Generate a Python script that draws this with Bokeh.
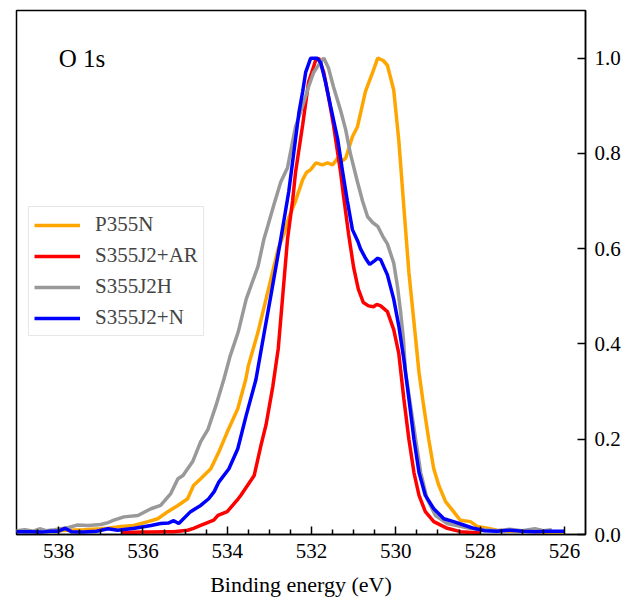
from bokeh.plotting import figure
from bokeh.models import Range1d, FixedTicker, PrintfTickFormatter, Label
from bokeh.embed import file_html
from bokeh.resources import INLINE

# O 1s XPS spectra, normalised intensity vs binding energy (eV)
p355n_e = [539.0, 538.6, 538.2, 537.8, 537.4, 537.0, 536.83, 536.52, 536.22, 535.88,
           535.65, 535.41, 535.17, 534.94, 534.8, 534.63, 534.39, 534.2, 534.0, 533.75,
           533.56, 533.5, 533.27, 533.08, 532.79, 532.66, 532.54, 532.38, 532.21, 532.12,
           532.02, 531.9, 531.74, 531.62, 531.5, 531.38, 531.26, 531.19, 531.03, 530.91,
           530.72, 530.55, 530.43, 530.3, 530.2, 530.05, 529.93, 529.81, 529.69, 529.57,
           529.45, 529.34, 529.22, 529.1, 528.98, 528.82, 528.63, 528.47, 528.23, 528.07,
           527.83, 527.6, 527.3, 527.0, 526.7, 526.4, 526.0]
p355n_i = [0.008, 0.006, 0.007, 0.009, 0.010, 0.012, 0.013, 0.017, 0.019, 0.027,
           0.033, 0.048, 0.061, 0.075, 0.103, 0.117, 0.138, 0.173, 0.215, 0.264,
           0.326, 0.354, 0.425, 0.494, 0.600, 0.630, 0.665, 0.700, 0.745, 0.760,
           0.766, 0.780, 0.776, 0.780, 0.776, 0.790, 0.785, 0.790, 0.835, 0.856,
           0.930, 0.970, 1.000, 0.995, 0.985, 0.933, 0.828, 0.688, 0.550, 0.446,
           0.340, 0.270, 0.200, 0.138, 0.103, 0.069, 0.048, 0.030, 0.027, 0.017,
           0.013, 0.009, 0.007, 0.008, 0.006, 0.005, 0.005]

s355j2ar_e = [536.5, 536.0, 535.8, 535.5, 535.27, 534.94, 534.8, 534.63, 534.32, 534.22,
              534.0, 533.74, 533.68, 533.36, 533.2, 533.08, 532.92, 532.79, 532.69, 532.57,
              532.45, 532.38, 532.21, 532.07, 531.9, 531.83, 531.71, 531.6, 531.48, 531.31,
              531.24, 531.12, 531.0, 530.89, 530.77, 530.65, 530.53, 530.45, 530.36, 530.2,
              530.05, 529.93, 529.81, 529.69, 529.57, 529.45, 529.3, 529.1, 528.78, 528.47,
              528.2, 528.0]
s355j2ar_i = [0.004, 0.005, 0.005, 0.006, 0.006, 0.009, 0.013, 0.019, 0.030, 0.040,
              0.048, 0.075, 0.082, 0.124, 0.187, 0.230, 0.310, 0.390, 0.494, 0.620,
              0.700, 0.760, 0.860, 0.950, 0.996, 1.000, 0.970, 0.920, 0.860, 0.760,
              0.710, 0.630, 0.560, 0.515, 0.487, 0.480, 0.478, 0.483, 0.480, 0.468,
              0.430, 0.380, 0.285, 0.200, 0.130, 0.082, 0.048, 0.027, 0.013, 0.006,
              0.004, 0.003]

s355j2h_e = [539.0, 538.8, 538.6, 538.45, 538.3, 538.1, 537.8, 537.55, 537.3, 537.0,
             536.83, 536.69, 536.45, 536.12, 535.81, 535.58, 535.34, 535.17, 535.05, 534.82,
             534.63, 534.46, 534.27, 534.08, 533.93, 533.74, 533.55, 533.27, 533.13, 533.04,
             532.9, 532.73, 532.57, 532.38, 532.21, 532.07, 531.95, 531.8, 531.71, 531.6,
             531.48, 531.31, 531.19, 531.08, 530.91, 530.79, 530.67, 530.55, 530.43, 530.31,
             530.2, 530.05, 529.96, 529.89, 529.82, 529.77, 529.65, 529.53, 529.41, 529.26,
             529.06, 528.78, 528.47, 528.2, 527.9, 527.6, 527.3, 527.0, 526.7, 526.5,
             526.3]
s355j2h_i = [0.008, 0.010, 0.007, 0.012, 0.008, 0.010, 0.014, 0.020, 0.019, 0.021,
             0.025, 0.030, 0.037, 0.040, 0.054, 0.061, 0.086, 0.117, 0.124, 0.153,
             0.195, 0.220, 0.270, 0.326, 0.375, 0.425, 0.494, 0.563, 0.620, 0.647,
             0.690, 0.740, 0.770, 0.856, 0.900, 0.940, 0.970, 0.990, 1.000, 0.980,
             0.940, 0.890, 0.850, 0.800, 0.740, 0.700, 0.667, 0.655, 0.647, 0.626,
             0.610, 0.570, 0.520, 0.470, 0.410, 0.340, 0.270, 0.200, 0.130, 0.075,
             0.040, 0.023, 0.017, 0.012, 0.010, 0.008, 0.011, 0.008, 0.012, 0.008,
             0.010]

s355j2n_e = [539.0, 538.7, 538.4, 538.2, 538.0, 537.85, 537.7, 537.4, 537.1, 536.83,
             536.6, 536.4, 536.2, 535.81, 535.58, 535.4, 535.27, 535.15, 534.87, 534.63,
             534.44, 534.31, 534.2, 533.96, 533.75, 533.55, 533.32, 533.12, 532.98, 532.73,
             532.54, 532.38, 532.3, 532.21, 532.14, 532.02, 531.87, 531.78, 531.67, 531.55,
             531.38, 531.26, 531.15, 531.03, 530.9, 530.84, 530.72, 530.62, 530.5, 530.43,
             530.36, 530.2, 530.05, 529.93, 529.81, 529.69, 529.57, 529.45, 529.3, 529.1,
             528.86, 528.63, 528.39, 528.15, 527.9, 527.6, 527.3, 527.0, 526.7, 526.4,
             526.0]
s355j2n_i = [0.006, 0.006, 0.005, 0.007, 0.007, 0.013, 0.006, 0.005, 0.007, 0.012,
             0.009, 0.011, 0.013, 0.019, 0.023, 0.024, 0.029, 0.023, 0.048, 0.061,
             0.075, 0.090, 0.110, 0.138, 0.180, 0.250, 0.325, 0.425, 0.494, 0.620,
             0.720, 0.830, 0.885, 0.930, 0.970, 1.000, 1.000, 0.990, 0.950, 0.900,
             0.830, 0.760, 0.700, 0.640, 0.615, 0.600, 0.580, 0.567, 0.575, 0.580,
             0.577, 0.545, 0.494, 0.438, 0.368, 0.285, 0.200, 0.130, 0.082, 0.054,
             0.033, 0.027, 0.020, 0.013, 0.008, 0.007, 0.009, 0.007, 0.006, 0.007,
             0.007]

series = [
    ("P355N", p355n_e, p355n_i, "#FFA500"),
    ("S355J2+AR", s355j2ar_e, s355j2ar_i, "#FF0000"),
    ("S355J2H", s355j2h_e, s355j2h_i, "#999999"),
    ("S355J2+N", s355j2n_e, s355j2n_i, "#0000FF"),
]

x_major = [538, 536, 534, 532, 530, 528, 526]
x_minor = [538.5, 537.5, 537, 536.5, 535.5, 535, 534.5, 533.5, 533, 532.5,
           531.5, 531, 530.5, 529.5, 529, 528.5, 527.5, 527, 526.5]
y_major = [0.0, 0.2, 0.4, 0.6, 0.8, 1.0]

FONT = "Liberation Serif"

p = figure(width=632, height=599,
           x_range=Range1d(539, 525.5), y_range=Range1d(0, 1.1),
           y_axis_location="right",
           min_border_left=16, min_border_right=47,
           min_border_top=10, min_border_bottom=63,
           output_backend="svg", toolbar_location=None)

for name, e, i, c in series:
    p.line(e, i, line_color=c, line_width=3.5, legend_label=name)

p.grid.visible = False
p.outline_line_color = "black"
p.outline_line_width = 1.5
p.background_fill_color = "white"
p.border_fill_color = "white"

xa = p.xaxis[0]
xa.ticker = FixedTicker(ticks=x_major, minor_ticks=x_minor)
xa.axis_label = "Binding energy (eV)"
ya = p.yaxis[0]
ya.ticker = FixedTicker(ticks=y_major)
ya.formatter = PrintfTickFormatter(format="%.1f")

for ax in (xa, ya):
    ax.axis_line_color = "black"
    ax.axis_line_width = 1.5
    ax.major_tick_in = 8
    ax.major_tick_out = 0
    ax.minor_tick_in = 5
    ax.minor_tick_out = 0
    ax.major_tick_line_width = 1.5
    ax.minor_tick_line_width = 1.5
    ax.major_label_text_font = FONT
    ax.major_label_text_font_size = "21px"
    ax.major_label_text_color = "black"
    ax.major_label_standoff = 9
    ax.axis_label_text_font = FONT
    ax.axis_label_text_font_size = "22px"
    ax.axis_label_text_font_style = "normal"
    ax.axis_label_text_color = "black"
    ax.axis_label_standoff = 11
ya.minor_tick_in = 0

p.add_layout(Label(x=538, y=1.0, text="O 1s", text_font=FONT,
                   text_font_size="25px", text_color="black",
                   text_baseline="alphabetic"))

lg = p.legend[0]
lg.location = (12, 198)
lg.margin = 0
lg.padding = 5
lg.spacing = 6
lg.glyph_width = 46
lg.glyph_height = 24
lg.label_height = 24
lg.label_standoff = 15
lg.label_text_font = FONT
lg.label_text_font_size = "21px"
lg.border_line_color = "#d0d0d0"
lg.border_line_width = 1
lg.background_fill_alpha = 0.8

open("out.html", "w").write(file_html(p, INLINE))
